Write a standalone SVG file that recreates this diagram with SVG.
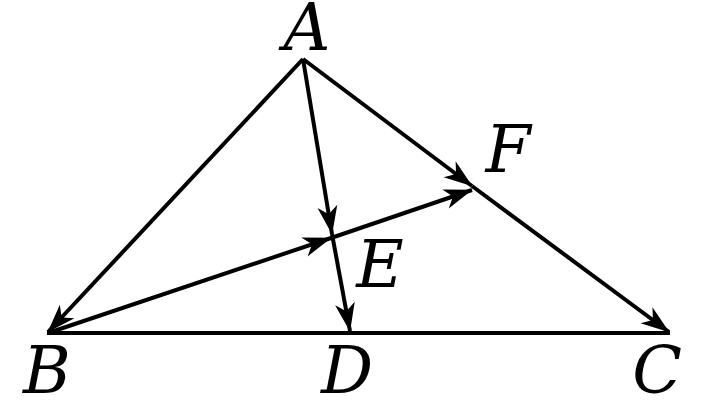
<svg xmlns="http://www.w3.org/2000/svg" width="709" height="408" viewBox="0 0 709 408">
<style>
.ln{stroke:#000;stroke-width:4;fill:none;marker-end:url(#ah)}
.pl{stroke:#000;stroke-width:4;fill:none}
.lb{font-family:"DejaVu Serif","Liberation Serif",serif;font-style:italic;font-size:65px;fill:#000;text-anchor:middle}
</style>
<defs>
<marker id="ah" markerUnits="userSpaceOnUse" markerWidth="32" markerHeight="24" viewBox="-29 -12 32 24" refX="1" refY="0" orient="auto">
<path d="M1.5,0 L-27,-10 L-19,0 L-27,10 Z" fill="#000"/>
</marker>
</defs>
<rect width="709" height="408" fill="#fff"/>
<g id="connectors">
<line class="pl" x1="47" y1="333" x2="670" y2="333"/>
<line class="ln" x1="303" y1="59" x2="48" y2="332"/>
<line class="ln" x1="303" y1="59" x2="472" y2="186"/>
<line class="ln" x1="472" y1="186" x2="669" y2="332"/>
<line class="ln" x1="303" y1="59" x2="332" y2="234"/>
<line class="ln" x1="332" y1="234" x2="350" y2="331"/>
<line class="ln" x1="48" y1="333" x2="331" y2="238"/>
<line class="ln" x1="331" y1="238" x2="472" y2="190"/>
</g>
<g id="A"><text class="lb" x="307" y="50">A</text></g>
<g id="B"><text class="lb" x="47" y="393">B</text></g>
<g id="C"><text class="lb" x="657" y="393">C</text></g>
<g id="D"><text class="lb" x="347" y="393">D</text></g>
<g id="E"><text class="lb" x="380" y="287">E</text></g>
<g id="F"><text class="lb" x="508" y="172">F</text></g>
</svg>
